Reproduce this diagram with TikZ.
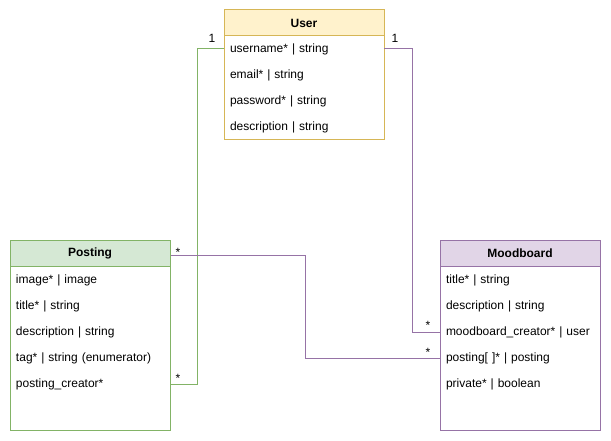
\documentclass[tikz,border=0pt]{standalone}
\usepackage{fontspec}
\setmainfont{Liberation Sans}
\definecolor{userfill}{HTML}{FFF2CC}
\definecolor{userline}{HTML}{D6B656}
\definecolor{postfill}{HTML}{D5E8D4}
\definecolor{postline}{HTML}{82B366}
\definecolor{moodfill}{HTML}{E1D5E7}
\definecolor{moodline}{HTML}{9673A6}
\tikzset{
  hdr/.style={draw, line width=1pt, minimum width=160pt, minimum height=26pt, inner sep=0pt, font=\fontsize{12}{14}\selectfont\bfseries},
  body/.style={draw, line width=1pt, minimum width=160pt, inner sep=0pt},
  row/.style={minimum width=160pt, minimum height=26pt, text width=148pt, inner xsep=6pt, inner ysep=0pt, align=left, font=\fontsize{12}{14}\selectfont},
  rowtext/.style={yshift=-1.5pt},
  conn/.style={line width=1pt},
  mult/.style={inner sep=0pt, font=\fontsize{12}{14}\selectfont}
}
\begin{document}
\begin{tikzpicture}[x=1pt,y=-1pt]
\useasboundingbox (0,0) rectangle (611,441);
% User
\node[body, draw=userline, minimum height=104pt] (userbody) at (304,88) {};
\node[hdr, fill=userfill, draw=userline] (user) at (304,23) {User};
\node[row] (urow1) at (304,49) {\raisebox{-1.5pt}{username* | string}};
\node[row] (urow2) at (304,75) {\raisebox{-1.5pt}{email* | string}};
\node[row] (urow3) at (304,101) {\raisebox{-1.5pt}{password* | string}};
\node[row] (urow4) at (304,127) {\raisebox{-1.5pt}{description | string}};
% Posting
\node[body, draw=postline, minimum height=164pt] (postbody) at (90,348) {};
\node[hdr, fill=postfill, draw=postline] (posting) at (90,253) {Posting};
\node[row] (prow1) at (90,280) {\raisebox{-1.5pt}{image* | image}};
\node[row] (prow2) at (90,306) {\raisebox{-1.5pt}{title* | string}};
\node[row] (prow3) at (90,332) {\raisebox{-1.5pt}{description | string}};
\node[row] (prow4) at (90,358) {\raisebox{-1.5pt}{tag* | string (enumerator)}};
\node[row] (prow5) at (90,384) {\raisebox{-1.5pt}{posting\_creator*}};
% Moodboard
\node[body, draw=moodline, minimum height=164pt] (moodbody) at (520,348) {};
\node[hdr, fill=moodfill, draw=moodline] (mood) at (520,253) {Moodboard};
\node[row] (mrow1) at (520,280) {\raisebox{-1.5pt}{title* | string}};
\node[row] (mrow2) at (520,306) {\raisebox{-1.5pt}{description | string}};
\node[row] (mrow3) at (520,332) {\raisebox{-1.5pt}{moodboard\_creator* | user}};
\node[row] (mrow4) at (520,358) {\raisebox{-1.5pt}{posting[ ]* | posting}};
\node[row] (mrow5) at (520,384) {\raisebox{-1.5pt}{private* | boolean}};
% connectors
\draw[conn, postline] (urow1.west) -- ++(-26,0) |- (prow5.east);
\draw[conn, moodline] (urow1.east) -- ++(28,0) |- (mrow3.west);
\draw[conn, moodline] ([yshift=-2pt]posting.east) -- ++(135,0) |- (mrow4.west);
% multiplicities
\node[mult] (m1) at (212,38) {1};
\node[mult] (m2) at (395,38) {1};
\node[mult] (m3) at (178,252) {*};
\node[mult] (m4) at (178,378) {*};
\node[mult] (m5) at (428,325) {*};
\node[mult] (m6) at (428,352) {*};
\end{tikzpicture}
\end{document}
